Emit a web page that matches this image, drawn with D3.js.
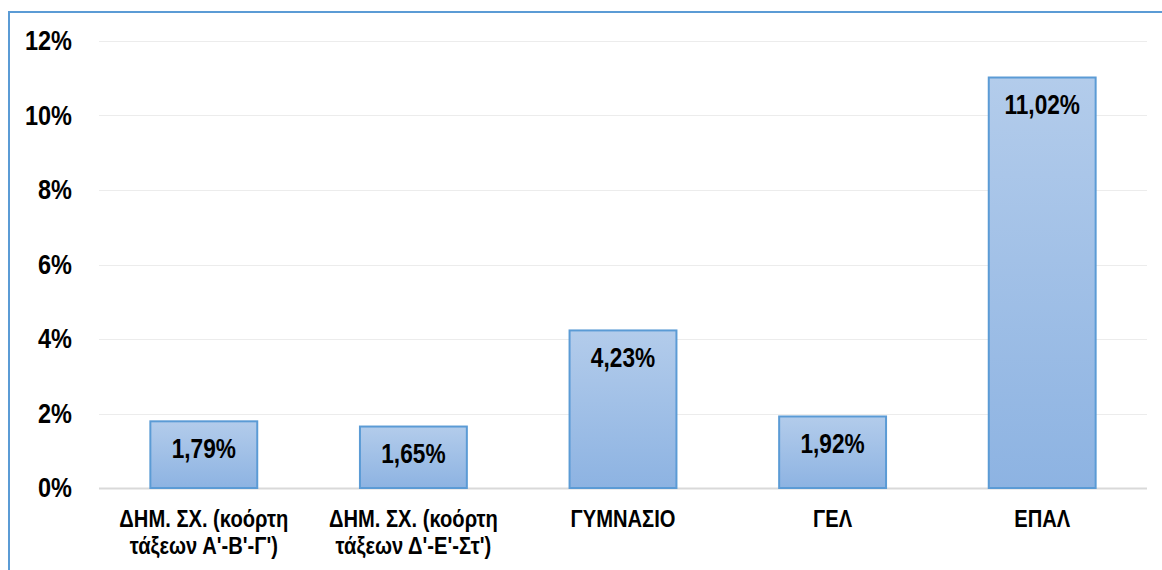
<!DOCTYPE html>
<html>
<head>
<meta charset="utf-8">
<script src="https://cdn.jsdelivr.net/npm/d3@7"></script>
<style>
  body { margin: 0; background: #fff; }
  svg { display: block; }
</style>
</head>
<body>
<div id="chart"></div>
<script>
// data
const categories = [
  ["ΔΗΜ. ΣΧ. (κοόρτη", "τάξεων Α'-Β'-Γ')"],
  ["ΔΗΜ. ΣΧ. (κοόρτη", "τάξεων Δ'-Ε'-Στ')"],
  ["ΓΥΜΝΑΣΙΟ"],
  ["ΓΕΛ"],
  ["ΕΠΑΛ"]
]
const values = [1.79, 1.65, 4.23, 1.92, 11.02]
const yTicks = [0, 2, 4, 6, 8, 10, 12]

const W = 1162, H = 570
const margin = {top: 41, right: 15, bottom: 82, left: 99}
const width = W - margin.left - margin.right
const height = H - margin.top - margin.bottom
const font = "'Liberation Sans', Arial, sans-serif"
const narrow = 0.84 // squeeze text horizontally, no narrow font installed

const svgRoot = d3.select("#chart").append("svg")
  .attr("width", W)
  .attr("height", H)

// gradient for bars
const defs = svgRoot.append("defs")
const grad = defs.append("linearGradient")
  .attr("id", "barGrad")
  .attr("x1", 0).attr("y1", 0).attr("x2", 0).attr("y2", 1)
grad.append("stop").attr("offset", "0%").attr("stop-color", "#b3cceb")
grad.append("stop").attr("offset", "100%").attr("stop-color", "#8db3e2")

// outer frame (chart is cropped on right/bottom)
svgRoot.append("line")
  .attr("x1", 9).attr("y1", 12).attr("x2", W).attr("y2", 12)
  .style("stroke", "#5b9bd5").style("stroke-width", 2)
svgRoot.append("line")
  .attr("x1", 9).attr("y1", 11).attr("x2", 9).attr("y2", H)
  .style("stroke", "#5b9bd5").style("stroke-width", 2)

const svg = svgRoot.append("g")
  .attr("transform", "translate(" + margin.left + "," + margin.top + ")")

const x = d3.scaleBand()
  .domain(d3.range(values.length))
  .range([0, width])
  .paddingInner(0.49)
  .paddingOuter(0.245)

const y = d3.scaleLinear()
  .domain([0, 12])
  .range([height, 0])

// gridlines
svg.selectAll("line.grid")
  .data(yTicks)
  .enter().append("line")
  .attr("class", "grid")
  .attr("x1", 0)
  .attr("x2", width)
  .attr("y1", d => Math.round(y(d)) + 0.5)
  .attr("y2", d => Math.round(y(d)) + 0.5)
  .style("stroke", d => d === 0 ? "#d9d9d9" : "#ececec")
  .style("stroke-width", d => d === 0 ? 2 : 1)

// y axis labels
const yAxis = d3.axisLeft(y)
  .tickValues(yTicks)
  .tickSize(0)
  .tickPadding(27 / narrow)
  .tickFormat(d => d + "%")
svg.append("g")
  .call(yAxis)
  .call(g => g.select(".domain").remove())
  .selectAll("text")
  .attr("transform", "scale(" + narrow + ",1)")
  .style("font-family", font)
  .style("font-size", "28px")
  .style("font-weight", "bold")
  .style("fill", "#000")

// bars
svg.selectAll(".bar")
  .data(values)
  .enter().append("rect")
  .attr("class", "bar")
  .attr("x", (d, i) => x(i))
  .attr("width", x.bandwidth())
  .attr("y", d => y(d))
  .attr("height", d => height - y(d))
  .style("fill", "url(#barGrad)")
  .style("stroke", "#5b9bd5")
  .style("stroke-width", 2)

// value labels
svg.selectAll(".label")
  .data(values)
  .enter().append("text")
  .attr("class", "label")
  .attr("transform", (d, i) => "translate(" + (x(i) + x.bandwidth() / 2) + "," + (y(d) + 27) + ") scale(" + narrow + ",1)")
  .attr("dy", "0.35em")
  .attr("text-anchor", "middle")
  .style("font-family", font)
  .style("font-size", "27px")
  .style("font-weight", "bold")
  .style("fill", "#000")
  .text(d => d.toFixed(2).replace(".", ",") + "%")

// category labels
const cat = svg.selectAll(".cat")
  .data(categories)
  .enter().append("text")
  .attr("class", "cat")
  .attr("text-anchor", "middle")
  .attr("transform", (d, i) => "translate(" + (x(i) + x.bandwidth() / 2) + "," + (height + 39) + ") scale(" + narrow + ",1)")
  .style("font-family", font)
  .style("font-size", "24px")
  .style("font-weight", "bold")
  .style("fill", "#000")
cat.selectAll("tspan")
  .data(d => d)
  .enter().append("tspan")
  .attr("x", 0)
  .attr("dy", (d, i) => i === 0 ? 0 : 27)
  .text(d => d)
</script>
</body>
</html>
